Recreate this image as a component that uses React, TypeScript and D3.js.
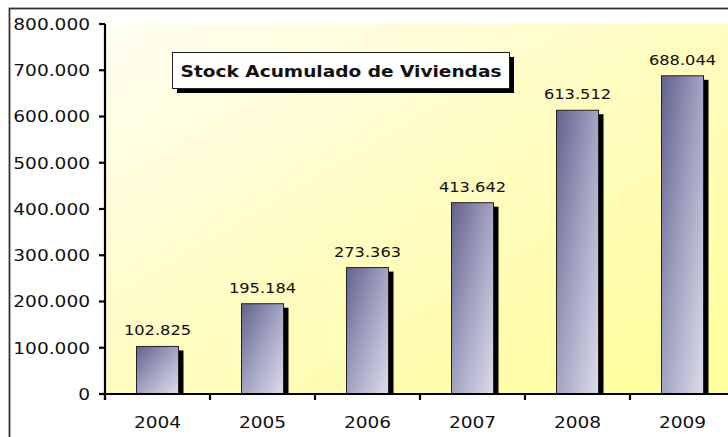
import React from "react";
import * as d3 from "d3";

const years = ["2004", "2005", "2006", "2007", "2008", "2009"];
const stock = [102825, 195184, 273363, 413642, 613512, 688044];
const yTicks = [0, 100000, 200000, 300000, 400000, 500000, 600000, 700000, 800000];
const title = "Stock Acumulado de Viviendas";

const W = 728;
const H = 437;
const plotLeft = 105;
const plotRight = 735;
const plotTop = 24;
const plotBottom = 394;
const SX = 1.16;

const fmt = (v: number) => {
  if (v === 0) return "0";
  const s = d3.format(",")(v);
  return s.replace(/,/g, ".");
};

const font = "'DejaVu Sans', Verdana, sans-serif";

function SText(props: {
  x: number;
  y: number;
  anchor: "start" | "middle" | "end";
  size: number;
  bold?: boolean;
  dy?: string;
  children: React.ReactNode;
}) {
  return (
    <text
      transform={`translate(${props.x},${props.y}) scale(${SX},1)`}
      dy={props.dy}
      textAnchor={props.anchor}
      fontFamily={font}
      fontSize={props.size}
      fontWeight={props.bold ? "bold" : "normal"}
      fill="#111"
    >
      {props.children}
    </text>
  );
}

export default function App() {
  const x = d3.scaleBand<string>().domain(years).range([plotLeft, plotRight]).padding(0);
  const y = d3.scaleLinear().domain([0, 800000]).range([plotBottom, plotTop]);
  const bw = x.bandwidth() * 0.4;
  const boundaries = years.map((yr) => x(yr) as number).concat([plotRight]);

  return (
    <div style={{ position: "absolute", left: 0, top: 0 }}>
      <svg width={W} height={H} style={{ display: "block", background: "#ffffff" }}>
        <defs>
          <linearGradient id="bg" x1="0" y1="0" x2="1" y2="1">
            <stop offset="0" stopColor="#fffef2" />
            <stop offset="0.5" stopColor="#fffcc0" />
            <stop offset="1" stopColor="#ffff99" />
          </linearGradient>
          <linearGradient id="bar" x1="0" y1="0" x2="1" y2="1">
            <stop offset="0" stopColor="#62628f" />
            <stop offset="0.5" stopColor="#a3a3c2" />
            <stop offset="1" stopColor="#dcdce9" />
          </linearGradient>
        </defs>

        {/* outer frame */}
        <rect x={9.5} y={8.5} width={800} height={500} fill="#ffffff" stroke="#333" strokeWidth={1.8} />

        {/* plot background */}
        <rect x={plotLeft} y={plotTop} width={plotRight - plotLeft} height={plotBottom - plotTop} fill="url(#bg)" />

        {/* bars */}
        {stock.map((v, i) => {
          const cx = (x(years[i]) as number) + x.bandwidth() / 2;
          const top = y(v);
          const h = plotBottom - top;
          return (
            <g key={years[i]}>
              <rect x={cx - bw / 2 + 5} y={top + 4} width={bw} height={Math.max(0, h - 4)} fill="#000" />
              <rect x={cx - bw / 2} y={top} width={bw} height={h} fill="url(#bar)" stroke="#222" strokeWidth={1} />
              <SText x={cx} y={top - 11} anchor="middle" size={14}>
                {fmt(v)}
              </SText>
            </g>
          );
        })}

        {/* y axis */}
        <line x1={plotLeft} y1={plotTop} x2={plotLeft} y2={plotBottom + 6} stroke="#000" strokeWidth={2.2} />
        {yTicks.map((t) => (
          <g key={t}>
            <line x1={plotLeft - 6} y1={y(t)} x2={plotLeft} y2={y(t)} stroke="#000" strokeWidth={2.2} />
            <SText x={plotLeft - 15} y={y(t)} dy="0.36em" anchor="end" size={16}>
              {fmt(t)}
            </SText>
          </g>
        ))}

        {/* x axis */}
        <line x1={plotLeft - 6} y1={plotBottom} x2={plotRight} y2={plotBottom} stroke="#000" strokeWidth={2.2} />
        {boundaries.map((bx, i) => (
          <line key={i} x1={bx} y1={plotBottom} x2={bx} y2={plotBottom + 6} stroke="#000" strokeWidth={2.2} />
        ))}
        {years.map((yr) => (
          <SText key={yr} x={(x(yr) as number) + x.bandwidth() / 2} y={428} anchor="middle" size={16}>
            {yr}
          </SText>
        ))}

        {/* title box */}
        <rect x={177} y={57} width={337} height={36} fill="#000" />
        <rect x={172.5} y={52.5} width={337} height={36} fill="#fff" stroke="#222" strokeWidth={1} />
        <SText x={172.5 + 337 / 2} y={77} anchor="middle" size={16} bold>
          {title}
        </SText>
      </svg>
    </div>
  );
}
